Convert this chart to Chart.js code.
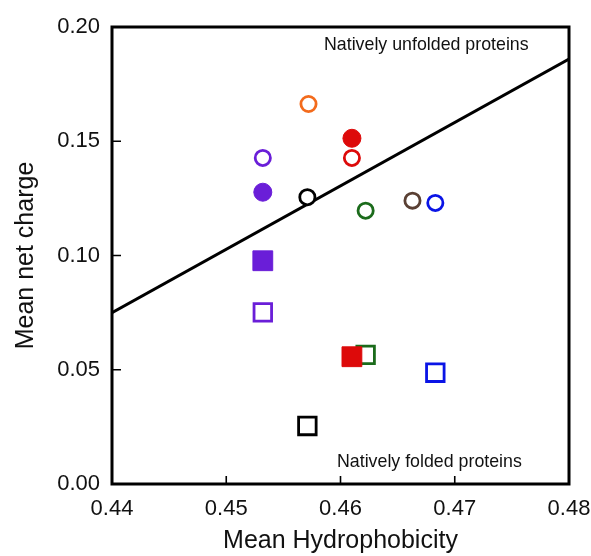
<!DOCTYPE html>
<html>
<head>
<meta charset="utf-8">
<script src="https://cdn.jsdelivr.net/npm/chart.js@4.4.1/dist/chart.umd.min.js"></script>
<style>
  html, body { margin: 0; padding: 0; background: #fff; }
  #wrap { width: 591px; height: 556px; }
</style>
</head>
<body>
<div id="wrap"><canvas id="chart"></canvas></div>
<script>
// values
const hydrophobicity = [0.4572, 0.4532, 0.4532, 0.4610, 0.4571, 0.4622, 0.4663, 0.4683, 0.4610,
                        0.4532, 0.4532, 0.4622, 0.4610, 0.4683, 0.4571];
const netCharge      = [0.1663, 0.1427, 0.1277, 0.1427, 0.1255, 0.1196, 0.1240, 0.1230, 0.1513,
                        0.0977, 0.0751, 0.0565, 0.0557, 0.0487, 0.0254];
const markerColor    = ['#f36b1c', '#6a1ed8', '#6a1ed8', '#dd0a0a', '#000000', '#1b6b1b', '#5a4034', '#0a14e6', '#dd0a0a',
                        '#6a1ed8', '#6a1ed8', '#1b6b1b', '#dd0a0a', '#0a14e6', '#000000'];
const markerShape    = ['circle', 'circle', 'circle', 'circle', 'circle', 'circle', 'circle', 'circle', 'circle',
                        'rect', 'rect', 'rect', 'rect', 'rect', 'rect'];
const markerFilled   = [false, false, true, false, false, false, false, false, true,
                        true, false, false, true, false, false];

// dividing boundary line
const boundaryX = [0.44, 0.48];
const boundaryY = [0.075, 0.186];

const xTicks = [0.44, 0.45, 0.46, 0.47, 0.48];
const yTicks = [0.00, 0.05, 0.10, 0.15, 0.20];

const FONT = '"Liberation Sans", Arial, Helvetica, sans-serif';

function pointRadius(i) {
  if (markerShape[i] === 'rect') return markerFilled[i] ? 14 : 12.4;
  return markerFilled[i] ? 9 : 7.6;
}

const framePlugin = {
  id: 'frame',
  afterDatasetsDraw(chart) {
    const { ctx, chartArea: a, scales } = chart;
    ctx.save();
    ctx.strokeStyle = '#000';
    ctx.lineWidth = 3;
    ctx.strokeRect(a.left, a.top, a.right - a.left, a.bottom - a.top);
    ctx.lineWidth = 1.6;
    ctx.beginPath();
    xTicks.forEach(v => {
      const px = scales.x.getPixelForValue(v);
      ctx.moveTo(px, a.bottom);
      ctx.lineTo(px, a.bottom - 8);
    });
    yTicks.forEach(v => {
      const py = scales.y.getPixelForValue(v);
      ctx.moveTo(a.left, py);
      ctx.lineTo(a.left + 9, py);
    });
    ctx.stroke();

    ctx.fillStyle = '#111';
    ctx.font = '17.8px ' + FONT;
    ctx.textBaseline = 'middle';
    ctx.textAlign = 'left';
    ctx.fillText('Natively unfolded proteins', a.left + 212, a.top + 18);
    ctx.fillText('Natively folded proteins', a.left + 225, a.bottom - 22);
    ctx.restore();
  }
};

const points = hydrophobicity.map((x, i) => ({ x, y: netCharge[i] }));

new Chart(document.getElementById('chart'), {
  type: 'scatter',
  data: {
    datasets: [
      {
        type: 'line',
        data: boundaryX.map((x, i) => ({ x, y: boundaryY[i] })),
        borderColor: '#000',
        borderWidth: 3,
        pointRadius: 0,
        fill: false,
        order: 2,
      },
      {
        data: points,
        pointStyle: ctx => markerShape[ctx.dataIndex],
        pointRadius: ctx => pointRadius(ctx.dataIndex),
        pointHoverRadius: ctx => pointRadius(ctx.dataIndex),
        borderColor: ctx => markerColor[ctx.dataIndex],
        backgroundColor: ctx => markerFilled[ctx.dataIndex] ? markerColor[ctx.dataIndex] : '#ffffff',
        borderWidth: ctx => markerFilled[ctx.dataIndex] ? 1 : 2.8,
        order: 1,
      },
    ],
  },
  options: {
    responsive: true,
    maintainAspectRatio: false,
    animation: false,
    layout: { padding: { left: 0, right: 22, top: 27, bottom: 0 } },
    plugins: { legend: { display: false }, tooltip: { enabled: false } },
    scales: {
      x: {
        type: 'linear',
        min: 0.44,
        max: 0.48,
        afterBuildTicks: s => { s.ticks = xTicks.map(v => ({ value: v })); },
        afterFit: s => { s.height = 72; s.paddingLeft = 0; s.paddingRight = 0; },
        grid: { display: false, drawTicks: false },
        border: { display: false },
        ticks: {
          padding: 12,
          color: '#111',
          font: { family: FONT, size: 22 },
          callback: v => v.toFixed(2),
        },
        title: {
          display: true,
          text: 'Mean Hydrophobicity',
          color: '#111',
          font: { family: FONT, size: 25 },
          padding: { top: 9, bottom: 0 },
        },
      },
      y: {
        type: 'linear',
        min: 0,
        max: 0.2,
        afterBuildTicks: s => { s.ticks = yTicks.map(v => ({ value: v })); },
        afterFit: s => { s.width = 112; s.paddingTop = 0; s.paddingBottom = 0; },
        grid: { display: false, drawTicks: false },
        border: { display: false },
        ticks: {
          padding: 12,
          color: '#111',
          font: { family: FONT, size: 22 },
          callback: v => v.toFixed(2),
        },
        title: {
          display: true,
          text: 'Mean net charge',
          color: '#111',
          font: { family: FONT, size: 25 },
          padding: { top: 11, bottom: 0 },
        },
      },
    },
  },
  plugins: [framePlugin],
});
</script>
</body>
</html>
